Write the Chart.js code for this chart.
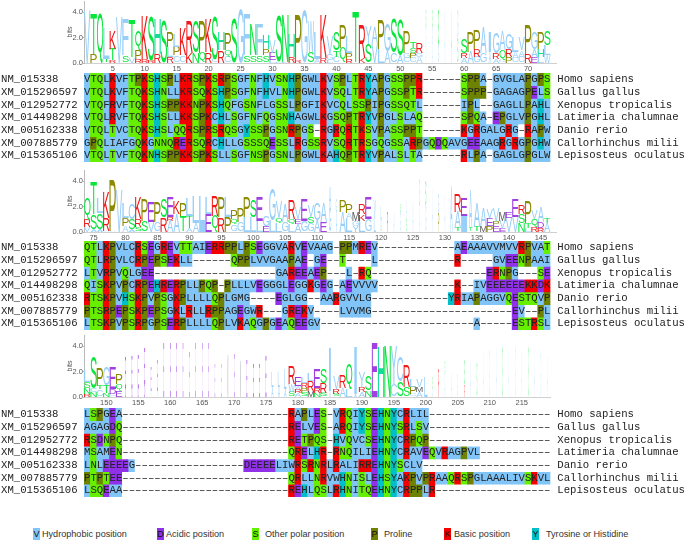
<!DOCTYPE html>
<html lang="en">
<head>
<meta charset="UTF-8">
<title>Alignment with sequence logos</title>
<script src="https://cdn.jsdelivr.net/npm/chart.js"></script>
<style>
    html, body { margin: 0; padding: 0; background: #fff; }
    body { position: relative; width: 685px; height: 542px; overflow: hidden; }
    canvas { position: absolute; }
    .key { position: absolute; top: 528px; height: 12px; font: 9.1px/12px "Liberation Sans", Arial, sans-serif; color: #333; white-space: nowrap; }
    .key b { position: absolute; top: 0; width: 7px; height: 12px; font: 9px/12px "Liberation Sans", Arial, sans-serif; text-align: center; color: #111; }
</style>
</head>
<body>
<script>
// accession ids and species, same order in every block
const accessions = ['NM_015338', 'XM_015296597', 'XM_012952772', 'XM_014498298', 'XM_005162338', 'XM_007885779', 'XM_015365106'];
const species = ['Homo sapiens', 'Gallus gallus', 'Xenopus tropicalis', 'Latimeria chalumnae', 'Danio rerio', 'Callorhinchus milii', 'Lepisosteus oculatus'];

// alignment, columns 1-73
const rows1 = [
    'VTQLKVFTPKSHSPLKRSPKSRPSGFNFHVSNHPGWLKVSPLTRYAPGSSPPR------SPPA-GVGLAPGPS',
    'VTQLKVFTQKSHNLLKRSQKSHPSGFNFHVLNHPGWLKVSQLTRYAPGSSPTR------SPPP-GAGAGPELS',
    'VTQFRVFTQKSHSPPKKNPKSHQFGSNFLGSSLPGFIKVCQLSSPIPGSSQTL------IPL--GAGLLPAHL',
    'VTQLRVFTQKSHSLLKKSPKCHLSGFNFQGSNHAGWLKGSQPTRYVPGLSLAQ------SPQA-EPGLVPGHL',
    'VTQLTVCTQKSHSLQQRSPRSRQSGYSSPGSNRPGS-RGRQRTKSVPASSPPT------KGRGALGRG-RAPW',
    'GPQLIAFGQKGNNQRERSQRCHLLGSSSQESSLRGSSRVSQRTRSGQGSSARPGQDQAVGEEAAGRGRGPGHW',
    'VTQLTVFTQKNHSPPKKSPKSLLSGFNSPGSNLPGWLKAHQPTRYVPALSLTA------RLPA-GAGLGPGLW'
];
// alignment, columns 74-146
const rows2 = [
    'QTLKPVLCRSEGREVTTAIERRPPLPSEGGVARVEVAAG-PPMREV------------AEAAAVVMVVRPVAT',
    'QTLRPVLCRPEPSEKLL------QPPLVVGAAPAE-GE--T----L------------R-----GVEENPAAI',
    'LTVRPVQLGEE-------------------GAREEAEP---L-RQ------------------ERNPG---SE',
    'QISKPVPCRPEHRERPLLPQP-PLLLVEGGGLEGGKGEG-AEVVVV------------K--IVEEEEEEKKDK',
    'RTSKPVHSKPVPSGKPLLLLQPLGMG----EGLGG--AARGVVLG------------YRIAPAGGVQESTQVP',
    'PTSRPEPSKPEPSGKLRLLRPPAGEGWR---GREKV----LVVMG----------------------EV--PL',
    'LTSKPVPSRPGPSERPLLLLQPLVKAQGPGEAQEEGV------------------------A-----ESTRSL'
];
// alignment, columns 147-219
const rows3 = [
    'LSPGEA--------------------------RAPLES-VRQIYSEHNYCRLIL-------------------',
    'AGAGDQ--------------------------RELVES-ARQIYSEHNYSRLSV-------------------',
    'RSDNPQ--------------------------RETPQS-HVQVCSEHNYCRPQP-------------------',
    'MSAMEN--------------------------QRELHR-RNQILIEHNYCRAVEQVRAGPVL-----------',
    'LNLEEEEG-----------------DEEEELIWRSRNRLRALIRREHNYSCLV--------------------',
    'PTPTEE--------------------------QRLLNRVWHNISLEHSYAKPVPRAAQRSPGLAAALIVSKVL',
    'LSQEAA--------------------------REHLQSLRHNITQEHNYCRPPLR------------------'
];

// logo stacks: letter + height in bits, bottom to top
const logo1 = ['V4.2', 'P.7 T3.2', 'Q4.0', 'T.3 L2.4', 'R.2 T.9 K1.4', 'V3.7', 'S.6 F2.8', 'V.4 T3.0', 'R.3 P.7 Q1.6', 'R.3 K3.4',
    'R.2 S3.6', 'R.7 H2.7', 'S3.4', 'R.5 L.8 P1.2', 'C.6 P.7 L1.0', 'C.6 K2.1', 'K.8 R2.6', 'N.8 S2.5', 'Q.8 P2.5', 'R.9 K2.6',
    'C.3 S3.5', 'R1.0 H1.4', 'C.5 Q.5 P1.3', 'S3.6', 'G4.3', 'S.6 F3.2', 'S.6 N2.4', 'S.6 F2.4', 'S.6 P.5 H1.1', 'L.2 E.6 V1.0',
    'L.1 S3.7', 'L.1 N3.7', 'R.5 H1.8', 'R.2 P3.5', 'G4.2', 'S.9 W2.4', 'A.3 L2.1', 'R.4 K3.4', 'L.2 G.5 V1.4', 'C.5 T.5 S1.5',
    'Q1.2 P1.8', 'R.3 P.5 L1.3', 'T4.0', 'K.4 R2.7', 'S1.5 Y1.4', 'V1.5 A1.3', 'L1.1 P2.3', 'A.9 G2.2', 'C.8 S2.7', 'A.6 S2.8',
    'C.4 G.4 P1.7', 'C.4 P.4 S.4 T.5', 'A.5 G.3 R.8', 'A1.4 G1.4 S1.4', 'A1.4 G1.4 S1.4', 'G1.4 S2.8', 'A4.2', 'A4.2', 'S2.0 G2.2', 'A.4 R.4 S1.1',
    'A.9 P1.6', 'G.5 R.6 P1.5', 'G.8 A2.0', 'A.9 I1.6', 'A.3 R.5 G1.7', 'C.2 Q.8 A1.5', 'P.5 R.6 G1.2', 'C.4 A.5 L1.2', 'C.5 A.5 V1.0', 'R.7 P2.3',
    'E.5 A.6 G1.3', 'L.5 H.6 P1.3', 'W.6 L.8 S1.2'];
const logo2 = ['V.4 R.6 Q1.7', 'A.2 S1.2 T2.6', 'A.2 S1.3 L1.2', 'A.1 R1.0 K2.0', 'A.1 P4.0', 'V3.4', 'A.5 P.6 L1.2', 'A.2 S.8 C1.2', 'A.1 S.3 R.6 K1.7', 'S.9 P1.7',
    'V.8 E1.6', 'G.8 P1.6', 'R1.2 S1.5', 'A.9 R.3 E1.6', 'A1.4 K1.0', 'T1.3 P1.0', 'A.3 T1.0 L1.4', 'A.7 L2.1', 'I.7 L2.1', 'E1.4 L1.3',
    'Q1.3 R1.6', 'R1.2 P1.6', 'P1.2 L1.6', 'G.6 Q.4 P.7', 'G.8 P1.1', 'L1.2 P1.6', 'L1.2 S1.4', 'L.9 E1.9', 'E.5 G.8', 'L.9 G2.5',
    'L.7 Q.4 V1.3', 'G.8 A1.4', 'L.6 Q.4 R1.5', 'A.6 E.4 V.9', 'G.9 E1.7', 'G.7 S.5 V.9', 'A.9 G1.3', 'E.8 A1.5', 'G2.0 A1.6', 'A1.6 G1.0',
    'A1.6 P.9', 'L1.0 A.5 P.7', 'Y.5 G.4 M.7', 'L.9 K.5 R.8', 'G1.0 E1.7', 'L1.0 V1.5', 'G1.0 L1.0', 'R1.7', 'A1.5', 'G1.6 S.6',
    'S1.0 A1.5', 'A2.5', 'A2.0 S2.2', 'G2.1 S2.0', 'A3.5', 'P1.5 G1.5', 'A3.0', 'A3.7', 'T.3 A1.3 R1.4', 'I1.3 E1.4',
    'T.3 A3.0', 'T.4 A1.9', 'M.5 A1.4', 'P.5 E.6 V.7', 'E.5 P.4 V1.0', 'E.3 V.6 M.7', 'V1.1 E.5', 'V1.2 E1.4', 'N.7 S.7 R.7', 'L.3 T.4 P1.7',
    'R.4 Q.6 V.7', 'R.3 D.5 A1.2', 'A.7 T.4'];
const logo3 = ['R.2 N.5 S.5 L.9', 'N.4 C.3 S2.5', 'C.6 T.3 P1.4', 'N.3 T.6 G1.4', 'C.2 D.4 E1.7', 'E.5 Q.5 P.8', 'D.7 E2.4', 'D.7 E2.5', 'D.7 E2.6', 'D1.0 E2.8',
    'G.5 E1.9', 'G.5 E2.4', 'E4.3', 'E4.3', 'E4.3', 'E4.3', 'E3.6', 'E4.3', 'E4.3', 'E4.3',
    'E2.7', 'E2.7', 'M3.4', 'E3.5', 'M2.9', 'E3.0', 'E2.7', 'E2.7', 'E3.3', 'A.8 L1.2',
    'A.8 L1.2', 'A.6 L1.6', 'S.4 W.6 R1.4', 'A.3 R.3 W.3 E.7', 'S.3 P.4 R.4 L.5', 'M.5 R.8 L.6', 'N.3 R.4 E1.5', 'S.3 R.8 S1.1', 'A.5 I3.4', 'S.2 R.4 V1.0',
    'A.7 R1.0', 'L.6 Q2.1', 'A.2 I3.7', 'A.4 R.4 Y1.2', 'N.5 S1.2', 'E4.3', 'H4.0', 'N4.1', 'C1.0 Y3.0', 'S1.2 C2.0',
    'S.8 R1.7', 'C.2 P.6 L.6', 'A.4 M.4 V.6', 'L1.6', 'A.6 S.9', 'R2.3', 'A1.8 S1.0', 'A2.0', 'G1.8', 'R1.0 S2.0',
    'A3.0', 'S2.8', 'A3.6', 'G3.8', 'A4.0', 'S4.0', 'A3.8', 'G4.0', 'A3.8', 'S4.0',
    'A3.6', 'G3.6', 'A3.4'];

// fraction of sequences without a gap in low occupancy columns, letters get that narrow
const occupancy1 = { 54: .06, 55: .06, 56: .12, 57: .06, 58: .1, 59: .1, 64: .35 };
const occupancy2 = { 112: .35, 113: .15, 119: .3, 120: .15, 121: .1, 122: .08, 123: .08, 124: .08, 125: .08, 126: .06, 127: .1, 128: .06, 129: .12, 130: .06, 131: .35, 134: .5 };
const occupancy3 = { 153: .12, 154: .12, 155: .12, 156: .12, 157: .08, 158: .08, 159: .08, 160: .08, 161: .08, 162: .07, 163: .07, 164: .07, 165: .07, 166: .07, 167: .05, 168: .05,
    169: .08, 170: .07, 171: .08, 172: .1, 173: .1, 174: .1, 175: .12, 176: .3, 177: .3, 178: .35, 185: .3, 189: .4, 192: .9, 200: .5,
    201: .06, 202: .1, 203: .06, 204: .06, 205: .06, 206: .08, 207: .06, 208: .06, 209: .05, 210: .05, 211: .05, 212: .05, 213: .05, 214: .05, 215: .05, 216: .05, 217: .05, 218: .05, 219: .05 };

const legendLabels = ['Hydrophobic position', 'Acidic position', 'Other polar position', 'Proline', 'Basic position', 'Tyrosine or Histidine'];
const legendLetters = ['V', 'D', 'S', 'P', 'K', 'Y'];

// background colours of the alignment
const BLUE = '#80c4f8', PURPLE = '#9030e8', GREEN = '#66f000', OLIVE = '#6e8200', RED = '#f40000', CYAN = '#00bfc8';
function cellColor(ch) {
    if ('AVLIMFWCG'.includes(ch)) return BLUE;
    if ('DE'.includes(ch)) return PURPLE;
    if ('STNQ'.includes(ch)) return GREEN;
    if (ch === 'P') return OLIVE;
    if ('KR'.includes(ch)) return RED;
    if ('YH'.includes(ch)) return CYAN;
    return '#ffffff';
}
// letter colours of the logos are a bit different
function logoColor(ch) {
    if ('AVLIFWCGY'.includes(ch)) return '#98cff8';
    if (ch === 'M') return '#5a5a5a';
    if ('DE'.includes(ch)) return '#a040e0';
    if ('STNQ'.includes(ch)) return '#08e63c';
    if (ch === 'H') return '#14dc96';
    if (ch === 'P') return '#8c8a00';
    return '#f01818';
}

function addCanvas(left, top, width, height) {
    const c = document.createElement('canvas');
    c.width = width;
    c.height = height;
    c.style.left = left + 'px';
    c.style.top = top + 'px';
    c.style.width = width + 'px';
    c.style.height = height + 'px';
    document.body.appendChild(c);
    return c;
}

// stretch a glyph so it fills the box of its bar
function drawLetter(ctx, ch, x, top, w, h, color) {
    ctx.save();
    ctx.font = '100px "Liberation Sans"';
    ctx.textBaseline = 'alphabetic';
    const m = ctx.measureText(ch);
    const gw = m.actualBoundingBoxLeft + m.actualBoundingBoxRight;
    const gh = m.actualBoundingBoxAscent + m.actualBoundingBoxDescent;
    ctx.translate(x - w / 2, top);
    ctx.scale(w / gw, h / gh);
    ctx.fillStyle = color;
    ctx.fillText(ch, m.actualBoundingBoxLeft, m.actualBoundingBoxAscent);
    ctx.restore();
}

function drawLogo(top, stacks, firstCol, nCols, occupancy) {
    const parsed = stacks.map(s => s.split(' ').map(t => ({ ch: t[0], bits: parseFloat(t.slice(1)) })));
    const depth = Math.max(...parsed.map(p => p.length));
    const labels = [];
    for (let i = 0; i < nCols; i++) labels.push(firstCol + i);
    const datasets = [];
    for (let k = 0; k < depth; k++) {
        datasets.push({
            data: labels.map((_, j) => parsed[j] && parsed[j][k] ? parsed[j][k].bits : 0),
            backgroundColor: 'rgba(0,0,0,0)',
            barPercentage: 1,
            categoryPercentage: 1
        });
    }
    const lettersPlugin = {
        id: 'logoLetters',
        afterDatasetsDraw(chart) {
            const ctx = chart.ctx;
            datasets.forEach((ds, k) => {
                chart.getDatasetMeta(k).data.forEach((bar, j) => {
                    const cell = parsed[j] && parsed[j][k];
                    if (!cell) return;
                    const w = bar.width * (occupancy[labels[j]] || 1);
                    drawLetter(ctx, cell.ch, bar.x, bar.y, w, bar.base - bar.y, logoColor(cell.ch));
                });
            });
        }
    };
    const canvas = addCanvas(64, top, 621, 74);
    new Chart(canvas, {
        type: 'bar',
        data: { labels, datasets },
        plugins: [lettersPlugin],
        options: {
            responsive: false,
            animation: false,
            devicePixelRatio: 1,
            layout: { padding: { left: 0, top: 0, bottom: 0, right: 685 - (84 + nCols * 6.39) } },
            plugins: { legend: { display: false }, tooltip: { enabled: false } },
            scales: {
                x: {
                    stacked: true,
                    grid: { display: false, drawTicks: false },
                    border: { color: '#d0d0d0' },
                    afterFit: s => { s.height = 12; s.paddingLeft = 0; s.paddingRight = 0; },
                    ticks: {
                        autoSkip: false,
                        maxRotation: 0,
                        padding: 1,
                        color: '#555',
                        font: { family: 'Liberation Sans', size: 7.5 },
                        callback(v) { const n = labels[v]; return n % 5 === 0 ? String(n) : ''; }
                    }
                },
                y: {
                    stacked: true,
                    min: 0,
                    max: 4.9,
                    grid: { display: true, drawOnChartArea: false, tickLength: 1, color: '#bbb' },
                    border: { color: '#bbb' },
                    title: { display: true, text: 'bits', color: '#555', font: { family: 'Liberation Sans', size: 7 }, padding: { top: 2, bottom: 0 } },
                    afterBuildTicks: s => { s.ticks = [0, 2, 4].map(v => ({ value: v })); },
                    afterFit: s => { s.width = 20; s.paddingTop = 0; s.paddingBottom = 0; },
                    ticks: {
                        padding: 0,
                        color: '#555',
                        font: { family: 'Liberation Sans', size: 7.5 },
                        callback: v => v.toFixed(1)
                    }
                }
            }
        }
    });
}

function drawAlignment(top, rows, firstCol) {
    const nCols = 73;
    const labels = [];
    for (let i = 0; i < nCols; i++) labels.push(firstCol + i);
    const datasets = rows.map(r => ({
        data: labels.map(() => 1),
        backgroundColor: labels.map((_, j) => cellColor(r[j])),
        borderWidth: 0,
        barPercentage: 1,
        categoryPercentage: 1
    }));
    const textPlugin = {
        id: 'alignmentText',
        afterDatasetsDraw(chart) {
            const ctx = chart.ctx;
            const y = chart.scales.y;
            ctx.save();
            ctx.font = '10.65px "Liberation Mono"';
            ctx.textBaseline = 'middle';
            ctx.fillStyle = '#222';
            rows.forEach((r, k) => {
                const ym = y.getPixelForValue(k + 0.5);
                ctx.textAlign = 'center';
                chart.getDatasetMeta(k).data.forEach((bar, j) => ctx.fillText(r[j] === '-' ? '\u2013' : r[j], bar.x, ym));
                ctx.textAlign = 'left';
                ctx.fillText(accessions[k], 1, ym);
                ctx.fillText(species[k], 557.3, ym);
            });
            ctx.restore();
        }
    };
    const canvas = addCanvas(0, top, 685, 89);
    new Chart(canvas, {
        type: 'bar',
        data: { labels, datasets },
        plugins: [textPlugin],
        options: {
            responsive: false,
            animation: false,
            devicePixelRatio: 1,
            layout: { padding: { left: 84, right: 685 - (84 + nCols * 6.39), top: 0, bottom: 0 } },
            plugins: { legend: { display: false }, tooltip: { enabled: false } },
            scales: {
                x: { display: false, stacked: true },
                y: { display: false, stacked: true, min: 0, max: rows.length, reverse: true }
            }
        }
    });
}

drawLogo(1, logo1, 1, 74, occupancy1);
drawAlignment(73, rows1, 1);
drawLogo(170, logo2, 74, 74, occupancy2);
drawAlignment(241, rows2, 74);
drawLogo(335, logo3, 147, 73, occupancy3);
drawAlignment(408, rows3, 147);

// colour key under the blocks
const keyX = [33, 157, 252, 371, 444, 532];
const keyTextX = [42, 166, 265, 384, 454, 546];
const keyColors = [BLUE, PURPLE, GREEN, OLIVE, RED, CYAN];
legendLabels.forEach((label, i) => {
    const sw = document.createElement('div');
    sw.className = 'key';
    sw.style.left = keyX[i] + 'px';
    sw.innerHTML = '<b style="background:' + keyColors[i] + '">' + legendLetters[i] + '</b>';
    document.body.appendChild(sw);
    const t = document.createElement('div');
    t.className = 'key';
    t.style.left = keyTextX[i] + 'px';
    t.textContent = label;
    document.body.appendChild(t);
});
</script>
</body>
</html>
